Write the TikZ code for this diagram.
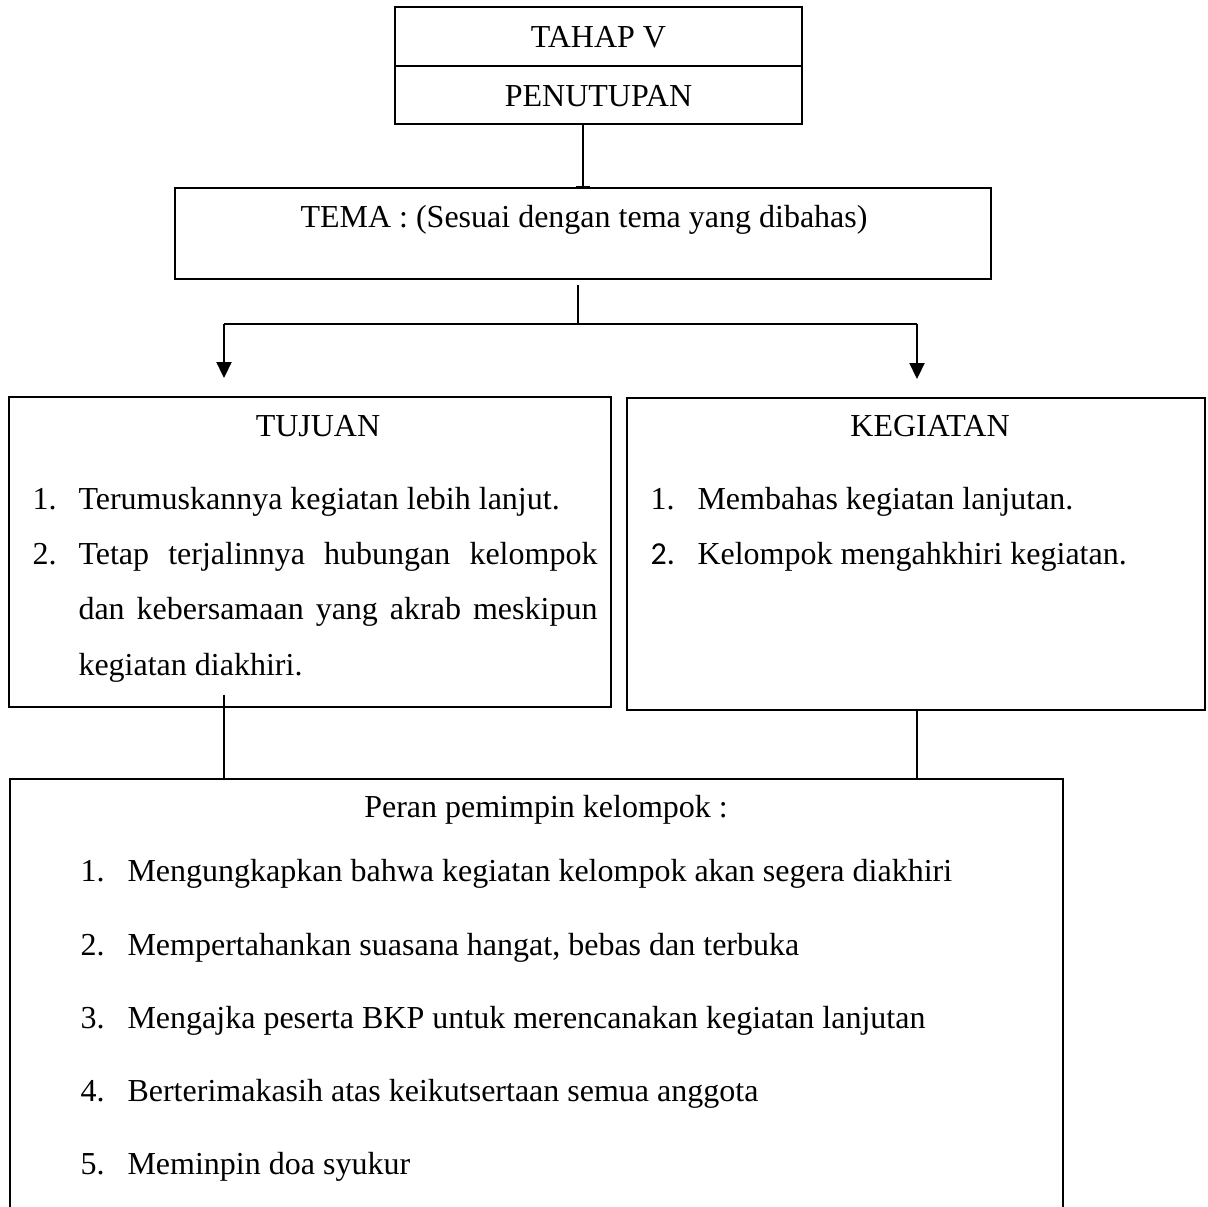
\documentclass[tikz,border=0pt]{standalone}
\usepackage{fontspec}
\setmainfont{Liberation Serif}
\newfontfamily\calibrifont{Carlito}
\usetikzlibrary{arrows.meta,calc}

\begin{document}
\begin{tikzpicture}[x=0.375pt,y=-0.375pt,
  box/.style={draw,line width=0.9pt,inner sep=0pt,outer sep=0pt},
  txt/.style={inner sep=0pt,anchor=base west},
  head/.style={inner sep=0pt,anchor=base},
  conn/.style={line width=0.8pt},
  thinconn/.style={line width=0.6pt},
  arr/.style={line width=0.8pt,-{Triangle[width=5.6pt,length=6pt]},shorten >=7.1pt},
  font=\fontsize{12}{14.4}\selectfont]

  \useasboundingbox (0,0) rectangle (1208,1207);
  \clip (0,0) rectangle (1208,1207);

  % boxes
  \node[box,minimum width=152.6pt,minimum height=22.1pt] (tahap) at (598.5,36.5) {};
  \node[box,minimum width=152.6pt,minimum height=21.75pt] (penutupan) at (598.5,95) {};
  \node[box,minimum width=306pt,minimum height=34.1pt] (tema) at (583,233.5) {};
  \node[box,minimum width=225.75pt,minimum height=116.25pt] (tujuan) at (310,552) {};
  \node[box,minimum width=216.75pt,minimum height=117pt] (kegiatan) at (916,554) {};
  \node[box,minimum width=394.9pt,minimum height=180.4pt] (peran) at (536.5,1019.5) {};

  % labels
  \node[head] (tahaplbl) at (598.5,48) {TAHAP V};
  \node[head] (penutupanlbl) at (598.5,107) {PENUTUPAN};
  \node[head] (temalbl) at (584,228) {TEMA : (Sesuai dengan tema yang dibahas)};

  \node[head] (tujuanlbl) at (318,437) {TUJUAN};
  \node[txt] (tno1) at (32,510) {1.};
  \node[txt] (t1) at (78,510) {Terumuskannya kegiatan lebih lanjut.};
  \node[txt] (tno2) at (32,565) {2.};
  \node[txt] (t2a) at (78,565) {\makebox[194.6pt][s]{Tetap terjalinnya hubungan kelompok}};
  \node[txt] (t2b) at (78,620) {\makebox[194.6pt][s]{dan kebersamaan yang akrab meskipun}};
  \node[txt] (t2c) at (78,676) {kegiatan diakhiri.};

  \node[head] (kegiatanlbl) at (930,437) {KEGIATAN};
  \node[txt] (kno1) at (650,510) {1.};
  \node[txt] (k1) at (697,510) {Membahas kegiatan lanjutan.};
  \node[txt] (kno2) at (650,565) {\calibrifont 2.};
  \node[txt] (k2) at (697,565) {Kelompok mengahkhiri kegiatan.};

  \node[head] (peranlbl) at (546,818) {Peran pemimpin kelompok :};
  \foreach \n/\t in {1/{Mengungkapkan bahwa kegiatan kelompok akan segera diakhiri},
                     2/{Mempertahankan suasana hangat, bebas dan terbuka},
                     3/{Mengajka peserta BKP untuk merencanakan kegiatan lanjutan},
                     4/{Berterimakasih atas keikutsertaan semua anggota},
                     5/{Meminpin doa syukur}}{
    \node[txt] (pno\n) at (80,{882+(\n-1)*73.25}) {\n.};
    \node[txt] (p\n) at (127,{882+(\n-1)*73.25}) {\t};
  }

  % connectors
  \coordinate (split) at (578,324);
  \coordinate (lsplit) at (224,324);
  \coordinate (rsplit) at (917,324);
  \draw[conn,-{Bar[width=5.6pt]}] (tema.north |- penutupan.south) -- (tema.north);
  \draw[conn] ($(tema.south -| split)+(0,6)$) -- (split);
  \draw[conn] (lsplit) -- (rsplit);
  \draw[arr] (lsplit) -- (lsplit |- tujuan.north);
  \draw[arr] (rsplit) -- (rsplit |- kegiatan.north);
  \draw[thinconn] ($(tujuan.south -| lsplit)+(0,-12)$) -- (peran.north -| lsplit);
  \draw[thinconn] (kegiatan.south -| rsplit) -- (peran.north -| rsplit);

\end{tikzpicture}
\end{document}
